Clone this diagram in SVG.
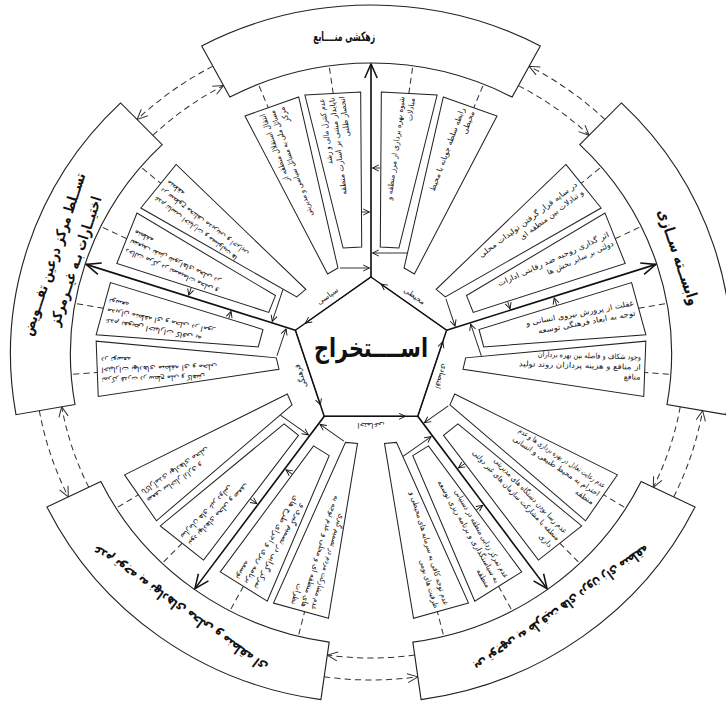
<svg xmlns="http://www.w3.org/2000/svg" width="726" height="702" viewBox="0 0 726 702">
<style>
.ob{fill:#fff;stroke:#222;stroke-width:1.1}
.bx{fill:#fff;stroke:#222;stroke-width:1}
.t{font-family:"DejaVu Sans",sans-serif;font-size:7.5px;fill:#111}
.ot{font-family:"DejaVu Sans",sans-serif;font-weight:bold;fill:#111}
.lb{font-family:"DejaVu Sans",sans-serif;font-size:7.5px;fill:#111}
.dash{fill:none;stroke:#333;stroke-width:1;stroke-dasharray:6 4}
.sp{fill:none;stroke:#111;stroke-width:1.6}
.th{fill:none;stroke:#222;stroke-width:0.9}
</style>
<defs>
<marker id="big" markerUnits="userSpaceOnUse" markerWidth="16" markerHeight="14" refX="14" refY="6" orient="auto" overflow="visible"><path d="M0,0 L14,6 L0,12" fill="none" stroke="#111" stroke-width="1.5"/></marker>
<marker id="sm" markerUnits="userSpaceOnUse" markerWidth="7" markerHeight="7" refX="6" refY="3" orient="auto" overflow="visible"><path d="M0,0 L6,3 L0,6" fill="none" stroke="#111" stroke-width="0.9"/></marker>
<marker id="dh" markerUnits="userSpaceOnUse" markerWidth="12" markerHeight="10" refX="10" refY="4.5" orient="auto" overflow="visible"><path d="M0,0 L10,4.5 L0,9" fill="none" stroke="#333" stroke-width="1"/></marker>
</defs>
<rect width="726" height="702" fill="#fff"/>

<!-- connectors -->
<g id="connectors">
<g transform="translate(371,354) scale(1.033,1) rotate(0)">
<path class="sp" d="M0,-77 L0,-290" marker-end="url(#big)"/>
<path class="th" d="M-30,-86 L-1.5,-86" marker-end="url(#sm)"/><path class="th" d="M-9,-142 L-1.5,-142" marker-end="url(#sm)"/><path class="th" d="M9,-186 L1.5,-186" marker-end="url(#sm)"/><path class="th" d="M35,-101 L1.5,-101" marker-end="url(#sm)"/>
<path class="dash" d="M-98.5,-243.9 L-109,-269.8 M-36.6,-260.4 L-40.5,-288.2 M36.6,-260.4 L40.5,-288.2 M98.5,-243.9 L109,-269.8"/>
<path class="dash" d="M142.7,-268.4 A304,304 0 0 1 211.2,-218.7" marker-end="url(#dh)"/>
<path class="dash" d="M226.5,-234.5 A326,326 0 0 0 153.1,-287.8" marker-end="url(#dh)"/>
<path class="th" d="M0,-77 L-63.5,-30.9" marker-end="url(#sm)"/>
<text class="lb" transform="translate(-40.6,-56) rotate(-36)" text-anchor="middle">سیاسی</text>
</g>
<g transform="translate(371,354) scale(1.033,1) rotate(72)">
<path class="sp" d="M0,-77 L0,-290" marker-end="url(#big)"/>
<path class="th" d="M-30,-86 L-1.5,-86" marker-end="url(#sm)"/><path class="th" d="M-9,-142 L-1.5,-142" marker-end="url(#sm)"/><path class="th" d="M9,-186 L1.5,-186" marker-end="url(#sm)"/><path class="th" d="M35,-101 L1.5,-101" marker-end="url(#sm)"/>
<path class="dash" d="M-98.5,-243.9 L-109,-269.8 M-36.6,-260.4 L-40.5,-288.2 M36.6,-260.4 L40.5,-288.2 M98.5,-243.9 L109,-269.8"/>
<path class="dash" d="M142.7,-268.4 A304,304 0 0 1 211.2,-218.7" marker-end="url(#dh)"/>
<path class="dash" d="M226.5,-234.5 A326,326 0 0 0 153.1,-287.8" marker-end="url(#dh)"/>
<path class="th" d="M0,-77 L-63.5,-30.9" marker-end="url(#sm)"/>
<text class="lb" transform="translate(-40.6,-56) rotate(-36)" text-anchor="middle">محیطی</text>
</g>
<g transform="translate(371,354) scale(1.033,1) rotate(144)">
<path class="sp" d="M0,-77 L0,-290" marker-end="url(#big)"/>
<path class="th" d="M-30,-86 L-1.5,-86" marker-end="url(#sm)"/><path class="th" d="M-9,-142 L-1.5,-142" marker-end="url(#sm)"/><path class="th" d="M9,-186 L1.5,-186" marker-end="url(#sm)"/><path class="th" d="M35,-101 L1.5,-101" marker-end="url(#sm)"/>
<path class="dash" d="M-98.5,-243.9 L-109,-269.8 M-36.6,-260.4 L-40.5,-288.2 M36.6,-260.4 L40.5,-288.2 M98.5,-243.9 L109,-269.8"/>
<path class="dash" d="M142.7,-268.4 A304,304 0 0 1 211.2,-218.7" marker-end="url(#dh)"/>
<path class="dash" d="M226.5,-234.5 A326,326 0 0 0 153.1,-287.8" marker-end="url(#dh)"/>
<path class="th" d="M0,-77 L-63.5,-30.9" marker-end="url(#sm)"/>
<text class="lb" transform="translate(-40.6,-56) rotate(-36)" text-anchor="middle">اقتصادی</text>
</g>
<g transform="translate(371,354) scale(1.033,1) rotate(216)">
<path class="sp" d="M0,-77 L0,-290" marker-end="url(#big)"/>
<path class="th" d="M-30,-86 L-1.5,-86" marker-end="url(#sm)"/><path class="th" d="M-9,-142 L-1.5,-142" marker-end="url(#sm)"/><path class="th" d="M9,-186 L1.5,-186" marker-end="url(#sm)"/><path class="th" d="M35,-101 L1.5,-101" marker-end="url(#sm)"/>
<path class="dash" d="M-98.5,-243.9 L-109,-269.8 M-36.6,-260.4 L-40.5,-288.2 M36.6,-260.4 L40.5,-288.2 M98.5,-243.9 L109,-269.8"/>
<path class="dash" d="M142.7,-268.4 A304,304 0 0 1 211.2,-218.7" marker-end="url(#dh)"/>
<path class="dash" d="M226.5,-234.5 A326,326 0 0 0 153.1,-287.8" marker-end="url(#dh)"/>
<path class="th" d="M0,-77 L-63.5,-30.9" marker-end="url(#sm)"/>
<text class="lb" transform="translate(-40.6,-56) rotate(-36)" text-anchor="middle">اجتماعی</text>
</g>
<g transform="translate(371,354) scale(1.033,1) rotate(288)">
<path class="sp" d="M0,-77 L0,-290" marker-end="url(#big)"/>
<path class="th" d="M-30,-86 L-1.5,-86" marker-end="url(#sm)"/><path class="th" d="M-9,-142 L-1.5,-142" marker-end="url(#sm)"/><path class="th" d="M9,-186 L1.5,-186" marker-end="url(#sm)"/><path class="th" d="M35,-101 L1.5,-101" marker-end="url(#sm)"/>
<path class="dash" d="M-98.5,-243.9 L-109,-269.8 M-36.6,-260.4 L-40.5,-288.2 M36.6,-260.4 L40.5,-288.2 M98.5,-243.9 L109,-269.8"/>
<path class="dash" d="M142.7,-268.4 A304,304 0 0 1 211.2,-218.7" marker-end="url(#dh)"/>
<path class="dash" d="M226.5,-234.5 A326,326 0 0 0 153.1,-287.8" marker-end="url(#dh)"/>
<path class="th" d="M0,-77 L-63.5,-30.9" marker-end="url(#sm)"/>
<text class="lb" transform="translate(-40.6,-56) rotate(-36)" text-anchor="middle">فرهنگی</text>
</g>
</g>

<!-- center node -->
<g id="center">
<polygon points="371,277 446.6,330.2 417.8,416.3 324.2,416.3 295.4,330.2" fill="none" stroke="#111" stroke-width="1.5"/>
<text class="ot" x="371" y="357" font-size="26" text-anchor="middle" textLength="114" lengthAdjust="spacingAndGlyphs">اســــتخراج</text>
</g>

<!-- sector: top -->
<g transform="translate(371,354) scale(1.033,1) rotate(0)">
<g id="outer-top"><path class="ob" d="M-136.6,-256.9 L-163.9,-308.1 A349,349 0 0 1 163.9,-308.1 L136.6,-256.9 A291,291 0 0 0 -136.6,-256.9 Z"/>
<text class="ot" x="-26" y="-313" font-size="13" text-anchor="middle" textLength="60" lengthAdjust="spacingAndGlyphs">زهکشی منــــابع</text></g>
<g id="top-a"><path class="bx" d="M-122,-238 L-70,-257 L-32,-86 L-42,-80 Z"/><g class="t" transform="translate(-96,-247.5) rotate(-109.73)" text-anchor="end">
<text x="-4" y="-9" textLength="72" lengthAdjust="spacingAndGlyphs">انتقال استقلال منطقه از</text><text x="-4" y="1" textLength="112" lengthAdjust="spacingAndGlyphs">مسائل ملی به مسائل سیاسی و مدیریتی</text><text x="-4" y="11">مرکز</text></g></g>
<g id="top-b"><path class="bx" d="M-64,-259 L-10,-262 L-9,-107 L-27,-106 Z"/><g class="t" transform="translate(-37,-260.5) rotate(-97.03)" text-anchor="end">
<text x="-4" y="-9" textLength="66" lengthAdjust="spacingAndGlyphs">عدم کنترل مالی و رشد</text><text x="-4" y="1" textLength="98" lengthAdjust="spacingAndGlyphs">ناپایدار مبتنی بر اسارت منطقه</text><text x="-4" y="11">انحصار طلبی</text></g></g>
<g id="top-c"><path class="bx" d="M10,-262 L64,-259 L27,-106 L9,-107 Z"/><g class="t" transform="translate(37,-260.5) rotate(-82.97)" text-anchor="end">
<text x="-4" y="-4" textLength="104" lengthAdjust="spacingAndGlyphs">شیوه بهره برداری از مرز منطقه و</text><text x="-4" y="6">مبادلات</text></g></g>
<g id="top-d"><path class="bx" d="M70,-257 L122,-238 L42,-80 L32,-86 Z"/><g class="t" transform="translate(96,-247.5) rotate(-70.27)" text-anchor="end">
<text x="-4" y="-4" textLength="88" lengthAdjust="spacingAndGlyphs">رابطه سلطه جویانه با محیط</text><text x="-4" y="6">محیطی</text></g></g>
</g>

<!-- sector: right -->
<g transform="translate(371,354) scale(1.033,1) rotate(72)">
<g id="outer-right"><path class="ob" d="M-136.6,-256.9 L-163.9,-308.1 A349,349 0 0 1 163.9,-308.1 L136.6,-256.9 A291,291 0 0 0 -136.6,-256.9 Z"/>
<text class="ot" x="0" y="-308" font-size="15" text-anchor="middle" textLength="100" lengthAdjust="spacingAndGlyphs">وابســته ســازی</text></g>
<g id="right-a"><path class="bx" d="M-122,-238 L-70,-257 L-32,-86 L-42,-80 Z"/><g class="t" transform="translate(-96,-247.5) rotate(-109.73)" text-anchor="end">
<text x="-4" y="-4" textLength="118" lengthAdjust="spacingAndGlyphs">در سایه قرار گرفتن تولیدات محلی</text><text x="-4" y="6" textLength="76" lengthAdjust="spacingAndGlyphs">و تبادلات بین منطقه ای</text></g></g>
<g id="right-b"><path class="bx" d="M-64,-259 L-10,-262 L-9,-107 L-27,-106 Z"/><g class="t" transform="translate(-37,-260.5) rotate(-97.03)" text-anchor="end">
<text x="-4" y="-4" textLength="118" lengthAdjust="spacingAndGlyphs">اثر گذاری روحیه ضد رقابتی ادارات</text><text x="-4" y="6" textLength="70" lengthAdjust="spacingAndGlyphs">دولتی بر سایر بخش ها</text></g></g>
<g id="right-c"><path class="bx" d="M10,-262 L64,-259 L27,-106 L9,-107 Z"/><g class="t" transform="translate(37,-260.5) rotate(-82.97)" text-anchor="end">
<text x="-4" y="-4" textLength="106" lengthAdjust="spacingAndGlyphs">غفلت از پرورش نیروی انسانی و</text><text x="-4" y="6" textLength="96" lengthAdjust="spacingAndGlyphs">توجه به ابعاد فرهنگی توسعه</text></g></g>
<g id="right-d"><path class="bx" d="M70,-257 L122,-238 L42,-80 L32,-86 Z"/><g class="t" transform="translate(96,-247.5) rotate(-70.27)" text-anchor="end">
<text x="-4" y="-9" textLength="100" lengthAdjust="spacingAndGlyphs">وجود شکاف و فاصله بین بهره برداران</text><text x="-4" y="1" textLength="118" lengthAdjust="spacingAndGlyphs">از منافع و هزینه پردازان روند تولید</text><text x="-4" y="11">منافع</text></g></g>
</g>

<!-- sector: bottom-right -->
<g transform="translate(371,354) scale(1.033,1) rotate(144)">
<g id="outer-bottom-right"><path class="ob" d="M-136.6,-256.9 L-163.9,-308.1 A349,349 0 0 1 163.9,-308.1 L136.6,-256.9 A291,291 0 0 0 -136.6,-256.9 Z"/>
<text class="ot" x="0" y="-310" font-size="14" text-anchor="middle" textLength="205" lengthAdjust="spacingAndGlyphs">بی توجهی به ظرفیت های درون زای منطقه</text></g>
<g id="br-a"><path class="bx" d="M-122,-238 L-70,-257 L-32,-86 L-42,-80 Z"/><g class="t" transform="translate(-96,-247.5) rotate(-109.73)" text-anchor="end">
<text x="-4" y="-9" textLength="100" lengthAdjust="spacingAndGlyphs">عدم رعایت تعادل در بهره برداری ها و عدم</text><text x="-4" y="1" textLength="100" lengthAdjust="spacingAndGlyphs">احترام به محیط طبیعی و انسانی</text><text x="-4" y="11">منطقه</text></g></g>
<g id="br-b"><path class="bx" d="M-64,-259 L-10,-262 L-9,-107 L-27,-106 Z"/><g class="t" transform="translate(-37,-260.5) rotate(-97.03)" text-anchor="end">
<text x="-4" y="-9" textLength="100" lengthAdjust="spacingAndGlyphs">عدم رسا بودن دستگاه های مدیریتی</text><text x="-4" y="1" textLength="120" lengthAdjust="spacingAndGlyphs">منطقه با مشارکت سازمان های غیر دولتی</text><text x="-4" y="11">داری</text></g></g>
<g id="br-c"><path class="bx" d="M10,-262 L64,-259 L27,-106 L9,-107 Z"/><g class="t" transform="translate(37,-260.5) rotate(-82.97)" text-anchor="end">
<text x="-4" y="-9" textLength="100" lengthAdjust="spacingAndGlyphs">عدم تمرکز زدایی منطقه در دستیابی</text><text x="-4" y="1" textLength="116" lengthAdjust="spacingAndGlyphs">به سیاستگذاری و برنامه ریزی توسعه</text><text x="-4" y="11">منطقه</text></g></g>
<g id="br-d"><path class="bx" d="M70,-257 L122,-238 L42,-80 L32,-86 Z"/><g class="t" transform="translate(96,-247.5) rotate(-70.27)" text-anchor="end">
<text x="-4" y="-4" textLength="118" lengthAdjust="spacingAndGlyphs">عدم توجه کافی به سرمایه های محیطی و</text><text x="-4" y="6" textLength="50" lengthAdjust="spacingAndGlyphs">ظرفیت های بومی</text></g></g>
</g>

<!-- sector: bottom-left -->
<g transform="translate(371,354) scale(1.033,1) rotate(216)">
<g id="outer-bottom-left"><path class="ob" d="M-136.6,-256.9 L-163.9,-308.1 A349,349 0 0 1 163.9,-308.1 L136.6,-256.9 A291,291 0 0 0 -136.6,-256.9 Z"/>
<text class="ot" x="0" y="-310" font-size="14" text-anchor="middle" textLength="205" lengthAdjust="spacingAndGlyphs">عدم توجه به نهادهای محلی و منطقه ای</text></g>
<g id="bl-a"><path class="bx" d="M-122,-238 L-70,-257 L-32,-86 L-42,-80 Z"/><g class="t" transform="translate(-96,-247.5) rotate(-109.73)" text-anchor="end">
<text x="-4" y="-9" textLength="100" lengthAdjust="spacingAndGlyphs">عدم مشارکت مردم در تصمیم گیری</text><text x="-4" y="1" textLength="116" lengthAdjust="spacingAndGlyphs">های منطقه ای و محلی و عدم توجه به</text><text x="-4" y="11">نظرات</text></g></g>
<g id="bl-b"><path class="bx" d="M-64,-259 L-10,-262 L-9,-107 L-27,-106 Z"/><g class="t" transform="translate(-37,-260.5) rotate(-97.03)" text-anchor="end">
<text x="-4" y="-9" textLength="95" lengthAdjust="spacingAndGlyphs">تمرکز گرایی در تصمیم گیری و</text><text x="-4" y="1" textLength="100" lengthAdjust="spacingAndGlyphs">برنامه ریزی و اجرای طرح های</text><text x="-4" y="11">توسعه</text></g></g>
<g id="bl-c"><path class="bx" d="M10,-262 L64,-259 L27,-106 L9,-107 Z"/><g class="t" transform="translate(37,-260.5) rotate(-82.97)" text-anchor="end">
<text x="-4" y="-4" textLength="82" lengthAdjust="spacingAndGlyphs">نبود نهادهای محلی و ضعف</text><text x="-4" y="6" textLength="70" lengthAdjust="spacingAndGlyphs">سازمان های غیر دولتی</text></g></g>
<g id="bl-d"><path class="bx" d="M70,-257 L122,-238 L42,-80 L32,-86 Z"/><g class="t" transform="translate(96,-247.5) rotate(-70.27)" text-anchor="end">
<text x="-4" y="-4" textLength="64" lengthAdjust="spacingAndGlyphs">ضعف ساختار اداری و</text><text x="-4" y="6" textLength="78" lengthAdjust="spacingAndGlyphs">ناکارآمدی نهادهای محلی</text></g></g>
</g>

<!-- sector: left -->
<g transform="translate(371,354) scale(1.033,1) rotate(288)">
<g id="outer-left"><path class="ob" d="M-136.6,-256.9 L-163.9,-308.1 A349,349 0 0 1 163.9,-308.1 L136.6,-256.9 A291,291 0 0 0 -136.6,-256.9 Z"/>
<text class="ot" x="0" y="-318" font-size="14" text-anchor="middle" textLength="170" lengthAdjust="spacingAndGlyphs">تســلط مرکز درعین تفـــویض</text>
<text class="ot" x="0" y="-296" font-size="14" text-anchor="middle" textLength="135" lengthAdjust="spacingAndGlyphs">اختیــارات بـه غیــرمرکز</text></g>
<g id="left-a"><path class="bx" d="M-122,-238 L-70,-257 L-32,-86 L-42,-80 Z"/><g class="t" transform="translate(-96,-247.5) rotate(-109.73)" text-anchor="end">
<text x="-4" y="-9" textLength="100" lengthAdjust="spacingAndGlyphs">تمرکز قدرت در سطح ملی و کاهش</text><text x="-4" y="1" textLength="112" lengthAdjust="spacingAndGlyphs">اختیارات نهادهای منطقه ای و محلی</text><text x="-4" y="11">در توسعه</text></g></g>
<g id="left-b"><path class="bx" d="M-64,-259 L-10,-262 L-9,-107 L-27,-106 Z"/><g class="t" transform="translate(-37,-260.5) rotate(-97.03)" text-anchor="end">
<text x="-4" y="-9" textLength="95" lengthAdjust="spacingAndGlyphs">عدم تفویض اختیارات کافی به</text><text x="-4" y="1" textLength="106" lengthAdjust="spacingAndGlyphs">مدیران منطقه ای و محلی در امور</text><text x="-4" y="11">توسعه</text></g></g>
<g id="left-c"><path class="bx" d="M10,-262 L64,-259 L27,-106 L9,-107 Z"/><g class="t" transform="translate(37,-260.5) rotate(-82.97)" text-anchor="end">
<text x="-4" y="-9" textLength="98" lengthAdjust="spacingAndGlyphs">دخالت مرکز در تصمیمات محلی و</text><text x="-4" y="1" textLength="96" lengthAdjust="spacingAndGlyphs">تضعیف نقش شوراهای محلی در</text><text x="-4" y="11">منطقه</text></g></g>
<g id="left-d"><path class="bx" d="M70,-257 L122,-238 L42,-80 L32,-86 Z"/><g class="t" transform="translate(96,-247.5) rotate(-70.27)" text-anchor="end">
<text x="-4" y="-9" textLength="100" lengthAdjust="spacingAndGlyphs">عدم تناسب اختیارات و مسئولیت ها</text><text x="-4" y="1" textLength="106" lengthAdjust="spacingAndGlyphs">در سطوح مختلف مدیریتی و اجرایی</text><text x="-4" y="11">منطقه</text></g></g>
</g>
</svg>
